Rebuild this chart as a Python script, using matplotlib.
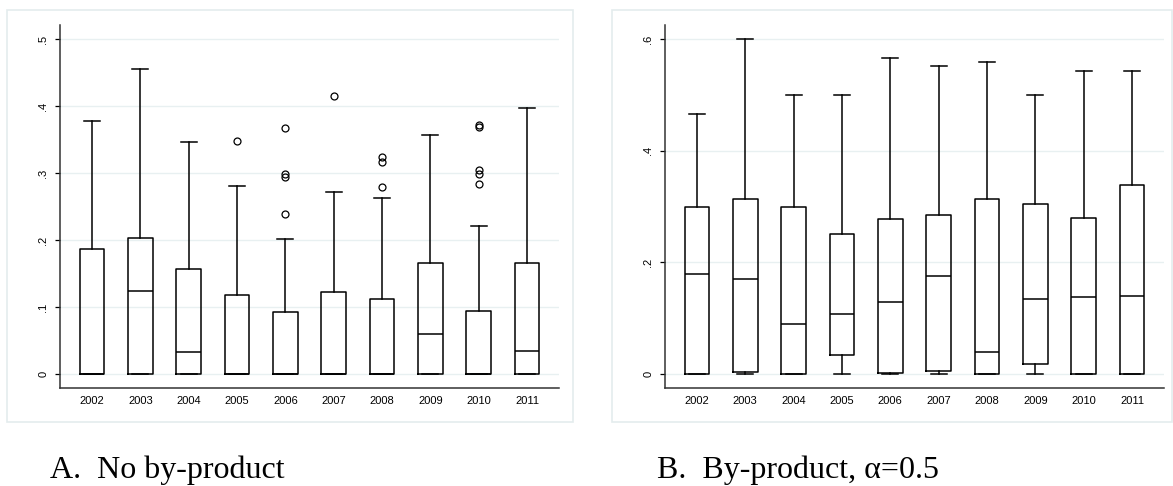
import matplotlib.pyplot as plt
from matplotlib.patches import Rectangle

years = ['2002', '2003', '2004', '2005', '2006', '2007', '2008', '2009', '2010', '2011']

# A. 부산물 없음
a_lo = [0, 0, 0, 0, 0, 0, 0, 0, 0, 0]
a_q1 = [0, 0, 0, 0, 0, 0, 0, 0, 0, 0]
a_med = [0, 0.124, 0.033, 0, 0, 0, 0, 0.060, 0, 0.035]
a_q3 = [0.187, 0.203, 0.157, 0.118, 0.093, 0.122, 0.112, 0.166, 0.094, 0.165]
a_hi = [0.378, 0.455, 0.346, 0.280, 0.201, 0.272, 0.262, 0.357, 0.221, 0.397]
a_out = [[], [], [], [0.348], [0.367, 0.299, 0.294, 0.239], [0.415],
         [0.324, 0.317, 0.279], [], [0.372, 0.368, 0.305, 0.299, 0.284], []]

# B. 부산물 있음, alpha=0.5
b_lo = [0, 0, 0, 0, 0, 0, 0, 0, 0, 0]
b_q1 = [0, 0.004, 0, 0.034, 0.002, 0.006, 0, 0.018, 0, 0]
b_med = [0.179, 0.170, 0.089, 0.107, 0.129, 0.175, 0.040, 0.134, 0.138, 0.140]
b_q3 = [0.300, 0.313, 0.300, 0.250, 0.278, 0.284, 0.314, 0.304, 0.280, 0.338]
b_hi = [0.466, 0.600, 0.500, 0.500, 0.566, 0.552, 0.559, 0.500, 0.543, 0.543]
b_out = [[], [], [], [], [], [], [], [], [], []]

a_ticks = [0, 0.1, 0.2, 0.3, 0.4, 0.5]
a_ticklabels = ['0', '.1', '.2', '.3', '.4', '.5']
b_ticks = [0, 0.2, 0.4, 0.6]
b_ticklabels = ['0', '.2', '.4', '.6']

captions = ['A.  No by-product', 'B.  By-product, \u03b1=0.5']

grid_c = '#e8f0f1'
frame_c = '#e4eced'


def make_stats(lo, q1, med, q3, hi, out):
    stats = []
    for i in range(len(years)):
        stats.append({'whislo': lo[i], 'q1': q1[i], 'med': med[i],
                      'q3': q3[i], 'whishi': hi[i], 'fliers': out[i]})
    return stats


def draw_box(ax, stats, ticks, ticklabels, ylim):
    lw = 1.1
    ax.bxp(stats, positions=range(1, len(years) + 1), widths=0.51,
           showfliers=True, capwidths=0.33,
           boxprops=dict(color='black', linewidth=lw),
           medianprops=dict(color='black', linewidth=lw),
           whiskerprops=dict(color='black', linewidth=lw),
           capprops=dict(color='black', linewidth=lw),
           flierprops=dict(marker='o', markerfacecolor='none',
                           markeredgecolor='black', markersize=5,
                           markeredgewidth=0.9))
    ax.set_xlim(0.34, 10.66)
    ax.set_ylim(*ylim)
    ax.set_xticks(range(1, len(years) + 1))
    ax.set_xticklabels(years, family='Liberation Sans', fontsize=8)
    ax.set_yticks(ticks)
    ax.set_yticklabels(ticklabels, family='Liberation Sans', fontsize=8,
                       rotation=90, va='center')
    ax.tick_params(axis='x', length=0, pad=6)
    ax.tick_params(axis='y', length=3.5, width=0.9, pad=5)
    for t in ticks:
        ax.axhline(t, color=grid_c, linewidth=1.0, zorder=0)
    for s in ['top', 'right']:
        ax.spines[s].set_visible(False)
    for s in ['left', 'bottom']:
        ax.spines[s].set_color('#333333')
        ax.spines[s].set_linewidth(1.1)


fig = plt.figure(figsize=(11.73, 4.86), dpi=100)

# 바깥 테두리
fig.patches.append(Rectangle((0.006, 0.1317), 0.4825, 0.8477, transform=fig.transFigure,
                             facecolor='white', edgecolor=frame_c, linewidth=1.2, zorder=-5))
fig.patches.append(Rectangle((0.5217, 0.1317), 0.4774, 0.8477, transform=fig.transFigure,
                             facecolor='white', edgecolor=frame_c, linewidth=1.2, zorder=-5))

ax1 = fig.add_axes([0.0512, 0.2016, 0.4254, 0.7469])
ax2 = fig.add_axes([0.5669, 0.2016, 0.4254, 0.7469])
ax1.patch.set_alpha(0)
ax2.patch.set_alpha(0)

draw_box(ax1, make_stats(a_lo, a_q1, a_med, a_q3, a_hi, a_out),
         a_ticks, a_ticklabels, (-0.021, 0.521))
draw_box(ax2, make_stats(b_lo, b_q1, b_med, b_q3, b_hi, b_out),
         b_ticks, b_ticklabels, (-0.025, 0.625))

fig.text(50 / 1173, 1 - 478 / 486, captions[0], family='Liberation Serif',
         fontsize=23, va='baseline', ha='left')
fig.text(657 / 1173, 1 - 478 / 486, captions[1], family='Liberation Serif',
         fontsize=23, va='baseline', ha='left')

fig.savefig('out.png', dpi=100)
